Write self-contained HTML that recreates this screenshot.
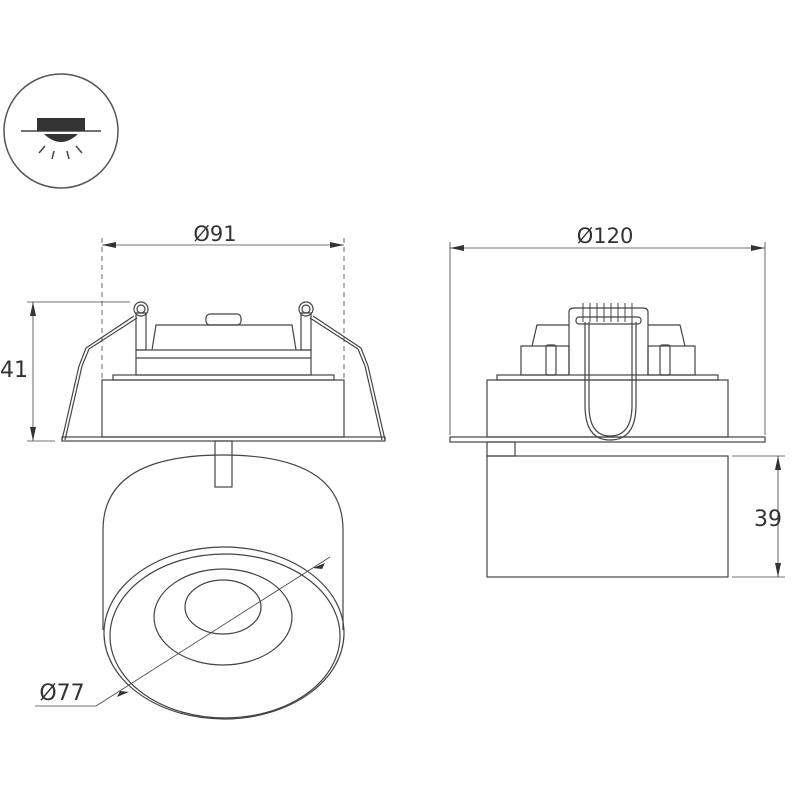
<!DOCTYPE html>
<html><head><style>body{margin:0;background:#fff}svg{display:block}text{font-family:"DejaVu Sans","Liberation Sans",sans-serif;fill:#333}</style></head><body>
<svg width="800" height="800" viewBox="0 0 800 800" xmlns="http://www.w3.org/2000/svg" fill="none" stroke="#444" stroke-width="1.2">
<!-- icon -->
<circle cx="61" cy="131" r="57" stroke="#555" stroke-width="1.5"/>
<line x1="21" y1="131" x2="101" y2="131" stroke-width="1.5"/>
<rect x="37" y="118" width="48" height="13" fill="#333" stroke="none"/>
<path d="M44 134 Q61 150 78 134 Z" fill="#333" stroke="none"/>
<g stroke-width="1.5"><line x1="45" y1="146" x2="39" y2="153"/><line x1="54" y1="151" x2="52" y2="159"/><line x1="67" y1="151" x2="69" y2="159"/><line x1="76" y1="146" x2="82" y2="153"/></g>
<!-- left view dims -->
<text x="215" y="241" font-size="21" text-anchor="middle" stroke="none">Ø91</text>
<line x1="102" y1="245" x2="344" y2="245" stroke-width="0.8"/>
<path d="M102 245 l14 -3 v6z M344 245 l-14 -3 v6z" fill="#333" stroke="none"/>
<g stroke-dasharray="5 4" stroke-width="0.8"><line x1="102" y1="238" x2="102" y2="430"/><line x1="344" y1="238" x2="344" y2="430"/></g>
<line x1="33" y1="302" x2="33" y2="441" stroke-width="0.8"/>
<path d="M33 302 l-3 14 h6z M33 441 l-3 -14 h6z" fill="#333" stroke="none"/>
<line x1="27" y1="302" x2="130" y2="302" stroke-width="0.8"/>
<line x1="27" y1="441" x2="55" y2="441" stroke-width="0.8"/>
<text x="14" y="377" font-size="22" text-anchor="middle" stroke="none">41</text>
<!-- left body -->
<rect x="62" y="437" width="323" height="4"/>
<rect x="102" y="380" width="242" height="57"/>
<rect x="113" y="375" width="221" height="5"/>
<rect x="136" y="350" width="175" height="25"/>
<line x1="136" y1="358" x2="311" y2="358"/>
<path d="M152 350 L156 325 H292 L296 350"/>
<rect x="206" y="314" width="35" height="11" rx="4"/>
<rect x="136" y="313" width="10" height="37"/><rect x="301" y="313" width="10" height="37"/>
<circle cx="141" cy="309" r="7"/><circle cx="306" cy="309" r="7"/>
<circle cx="141" cy="309" r="4"/><circle cx="306" cy="309" r="4"/>
<path d="M134 316 L86 348 L79 366 L62 440 M137 318 L89 349 L82 366 L65 440"/>
<path d="M313 316 L361 348 L368 366 L385 440 M310 318 L358 349 L365 366 L382 440"/>
<rect x="215" y="441" width="17" height="46"/>
<!-- cylinder -->
<path d="M103 630 L103 530 Q103 455 223 455 Q343 455 343 530 L343 630"/>
<ellipse cx="224" cy="633" rx="120" ry="86"/>
<ellipse cx="225" cy="636" rx="115" ry="82"/>
<ellipse cx="223" cy="617" rx="69" ry="48"/>
<ellipse cx="223" cy="607" rx="38" ry="27"/>
<line x1="330" y1="557" x2="96" y2="706" stroke-width="0.8"/>
<line x1="96" y1="706" x2="35" y2="706" stroke-width="0.8"/>
<path d="M313 568 l12 -5 l-3 6z M120 691 l-3 6 l12 -5z" fill="#333" stroke="none"/>
<text x="62" y="700" font-size="22" text-anchor="middle" stroke="none">Ø77</text>
<!-- right view -->
<text x="605" y="243" font-size="21" text-anchor="middle" stroke="none">Ø120</text>
<line x1="450" y1="248" x2="765" y2="248" stroke-width="0.8"/>
<path d="M450 248 l14 -3 v6z M765 248 l-14 -3 v6z" fill="#333" stroke="none"/>
<line x1="450" y1="242" x2="450" y2="435" stroke-width="0.8"/>
<line x1="765" y1="242" x2="765" y2="435" stroke-width="0.8"/>
<rect x="450" y="437" width="315" height="5"/>
<rect x="487" y="380" width="241" height="57"/>
<rect x="497" y="375" width="221" height="5"/>
<rect x="521" y="346" width="48" height="29"/><rect x="648" y="346" width="47" height="29"/>
<rect x="546" y="345" width="10" height="30" rx="2"/><rect x="660" y="345" width="10" height="30" rx="2"/>
<path d="M532 346 L537 325 H569 M648 325 H680 L685 346"/>
<path d="M569 375 V312 Q569 308 574 308 H643 Q648 308 648 312 V375"/>
<rect x="576" y="317" width="65" height="7" rx="3"/>
<g stroke-width="1"><path d="M583 303 V322 M590 303 V322 M597 303 V322 M604 303 V322 M611 303 V322 M618 303 V322 M625 303 V322 M632 303 V322"/></g>
<path d="M585 322 V405 Q585 440 610 440 Q636 440 636 405 V322"/>
<path d="M589 322 V405 Q589 436 610 436 Q632 436 632 405 V322"/>
<rect x="487" y="442" width="28" height="14"/>
<rect x="487" y="456" width="241" height="121"/>
<line x1="732" y1="456" x2="785" y2="456" stroke-width="0.8"/>
<line x1="732" y1="577" x2="785" y2="577" stroke-width="0.8"/>
<line x1="778" y1="456" x2="778" y2="577" stroke-width="0.8"/>
<path d="M778 456 l-3 14 h6z M778 577 l-3 -14 h6z" fill="#333" stroke="none"/>
<text x="768" y="526" font-size="22" text-anchor="middle" stroke="none">39</text>
</svg>
</body></html>
